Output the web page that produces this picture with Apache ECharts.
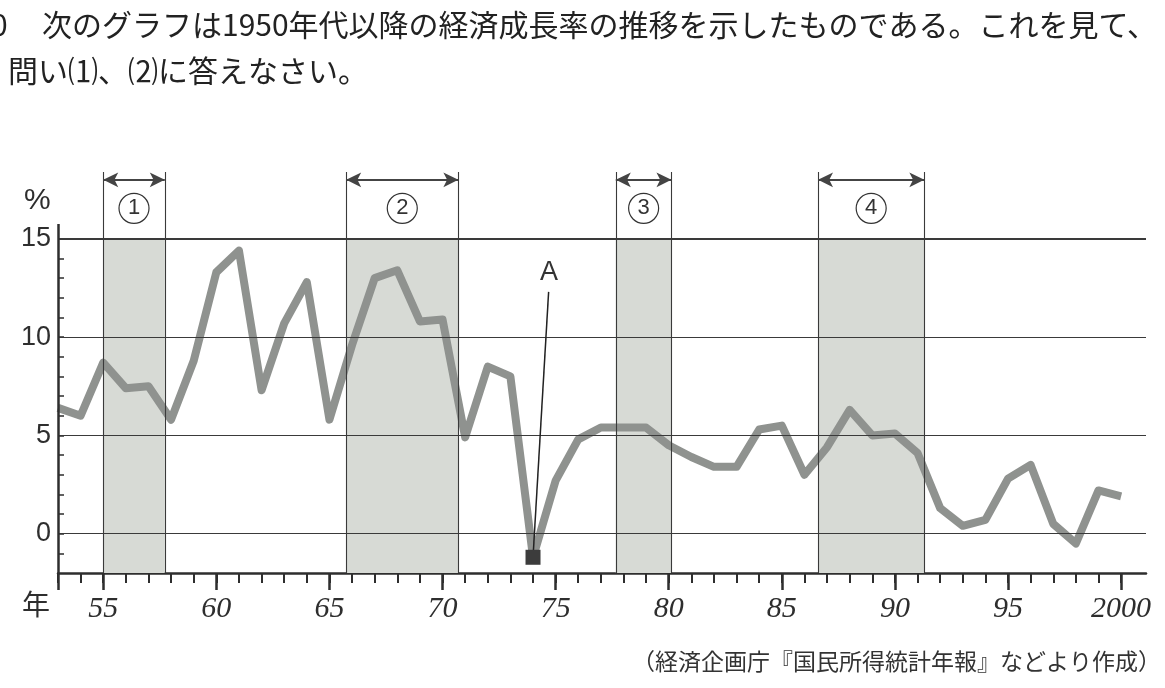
<!DOCTYPE html>
<html>
<head>
<meta charset="utf-8">
<script src="https://cdn.jsdelivr.net/npm/echarts@6/dist/echarts.min.js"></script>
<style>
  html, body { margin: 0; padding: 0; background: #fff; }
  #chart { width: 1165px; height: 688px; }
</style>
</head>
<body>
<div id="chart"></div>
<script>
// 年（1953〜2000）
var years = [1953, 1954, 1955, 1956, 1957, 1958, 1959, 1960, 1961, 1962, 1963, 1964,
  1965, 1966, 1967, 1968, 1969, 1970, 1971, 1972, 1973, 1974, 1975, 1976,
  1977, 1978, 1979, 1980, 1981, 1982, 1983, 1984, 1985, 1986, 1987, 1988,
  1989, 1990, 1991, 1992, 1993, 1994, 1995, 1996, 1997, 1998, 1999, 2000]
// 経済成長率（%）
var growth = [6.4, 6.0, 8.7, 7.4, 7.5, 5.8, 8.8, 13.3, 14.4, 7.3, 10.7, 12.8,
  5.8, 9.6, 13.0, 13.4, 10.8, 10.9, 4.9, 8.5, 8.0, -1.2, 2.7, 4.8,
  5.4, 5.4, 5.4, 4.5, 3.9, 3.4, 3.4, 5.3, 5.5, 3.0, 4.4, 6.3,
  5.0, 5.1, 4.1, 1.3, 0.4, 0.7, 2.8, 3.5, 0.5, -0.5, 2.2, 1.9]
// 景気拡大期（①〜④）
var bandNames = ['1', '2', '3', '4']
var bandStart = [1955.0, 1965.74, 1977.66, 1986.6]
var bandEnd = [1957.72, 1970.7, 1980.12, 1991.3]
// 目盛
var yTickLabels = [0, 5, 10, 15]
var yMinorTicks = [-1, 0, 1, 2, 3, 4, 5, 6, 7, 8, 9, 10, 11, 12, 13, 14, 15]
var xTickLabels = [1955, 1960, 1965, 1970, 1975, 1980, 1985, 1990, 1995, 2000]
var xMajorTicks = [1953, 1955, 1960, 1965, 1970, 1975, 1980, 1985, 1990, 1995, 2000]
// A の点
var pointA = 1974

var ink = '#2e2e2e'
var chart = echarts.init(document.getElementById('chart'))

var lineData = years.map(function (y, i) { return [y, growth[i]] })
var idxA = years.indexOf(pointA)

var areaData = bandStart.map(function (s, i) {
  return [{ xAxis: s, yAxis: -2 }, { xAxis: bandEnd[i], yAxis: 15 }]
})
var edgeData = []
bandStart.forEach(function (s, i) {
  edgeData.push({ xAxis: s })
  edgeData.push({ xAxis: bandEnd[i] })
})
var gridData = yTickLabels.map(function (v) {
  return { yAxis: v, lineStyle: { width: v === 15 ? 2 : 1.2 } }
})
var arrowData = bandStart.map(function (s, i) {
  return [{ coord: [s, 18] }, { coord: [bandEnd[i], 18] }]
})
var circleData = bandStart.map(function (s, i) {
  return { coord: [(s + bandEnd[i]) / 2, 16.55], value: bandNames[i] }
})

var option = {
  backgroundColor: '#fff',
  animation: false,
  grid: { left: 58, top: 172, width: 1088, height: 401 },
  xAxis: [{
    type: 'value', min: 1953, max: 2001.1,
    axisLine: { show: true, onZero: false, lineStyle: { color: ink, width: 2.5 } },
    axisTick: { show: true, customValues: years, length: 10, lineStyle: { color: ink, width: 2 } },
    axisLabel: {
      customValues: xTickLabels, margin: 21,
      fontFamily: 'Liberation Serif', fontStyle: 'italic', fontSize: 30, color: ink,
      formatter: function (v) { return v === 2000 ? '2000' : String(v % 100) }
    },
    splitLine: { show: false }
  }, {
    type: 'value', min: 1953, max: 2001.1, position: 'bottom', gridIndex: 0,
    axisLine: { show: false, onZero: false },
    axisTick: { show: true, customValues: xMajorTicks, length: 17, lineStyle: { color: ink, width: 2.5 } },
    axisLabel: { show: false },
    splitLine: { show: false }
  }],
  yAxis: {
    type: 'value', min: -2, max: 18.4,
    axisLine: { show: false, onZero: false },
    axisTick: { show: true, inside: true, customValues: yMinorTicks, length: 6, lineStyle: { color: ink, width: 1.5 } },
    axisLabel: {
      customValues: yTickLabels, margin: 7,
      fontFamily: 'Liberation Sans', fontSize: 27, color: ink
    },
    splitLine: { show: false }
  },
  graphic: [
    { type: 'text', left: -9, top: 10, style: { text: '0', font: '30px "Noto Sans CJK JP"', fill: '#222' } },
    { type: 'text', left: 42, top: 10, style: { text: '次のグラフは1950年代以降の経済成長率の推移を示したものである。これを見て、', font: '30px "Noto Sans CJK JP"', fill: '#222' } },
    { type: 'text', left: 8, top: 56, style: { text: '問い⑴、⑵に答えなさい。', font: '30px "Noto Sans CJK JP"', fill: '#222' } },
    { type: 'text', left: 24, top: 186, style: { text: '%', font: '30px "Liberation Sans"', fill: ink } },
    { type: 'text', left: 22, top: 590, style: { text: '年', font: '28px "Noto Sans CJK JP"', fill: ink } },
    { type: 'text', right: 4, top: 650, style: { text: '（経済企画庁『国民所得統計年報』などより作成）', font: '23px "Noto Sans CJK JP"', fill: '#333' } }
  ],
  series: [
    {
      // 網かけ
      type: 'line', data: [], z: 1, silent: true,
      markArea: { silent: true, itemStyle: { color: '#d7dad5' }, data: areaData }
    },
    {
      // 目盛線・期間の区切り・矢印・番号
      type: 'line', data: [], z: 2, silent: true,
      markLine: {
        silent: true, symbol: 'none', label: { show: false },
        lineStyle: { color: '#3a3a3a', type: 'solid', width: 1.1 },
        data: gridData.concat(edgeData).concat([
          [{ coord: [1953, -2], lineStyle: { width: 2.5, color: ink } }, { coord: [1953, 15.75] }]
        ]).concat(arrowData.map(function (d) {
          return [Object.assign({ symbol: 'arrow', symbolSize: [11, 15], lineStyle: { width: 1.8, color: '#444' } }, d[0]),
            Object.assign({ symbol: 'arrow', symbolSize: [11, 15] }, d[1])]
        }))
      },
      markPoint: {
        silent: true, symbol: 'circle', symbolSize: 30,
        itemStyle: { color: '#fff', borderColor: '#333', borderWidth: 1.2 },
        label: { show: true, formatter: '{c}', fontFamily: 'Liberation Sans', fontSize: 22, color: '#333' },
        data: circleData
      }
    },
    {
      name: '経済成長率', type: 'line', data: lineData, z: 3,
      showSymbol: false, symbol: 'none', silent: true,
      lineStyle: { color: '#8f928f', width: 8, join: 'round' }
    },
    {
      // A
      type: 'line', data: [], z: 4, silent: true,
      markLine: {
        silent: true, symbol: 'none',
        lineStyle: { color: '#222', type: 'solid', width: 1.5 },
        label: { show: true, position: 'end', formatter: 'A', distance: 6, fontFamily: 'Liberation Sans', fontSize: 27, color: '#333' },
        data: [[{ coord: [pointA, growth[idxA]] }, { coord: [1974.69, 12.3] }]]
      },
      markPoint: {
        silent: true, symbol: 'rect', symbolSize: 15,
        itemStyle: { color: '#3c3c3c' }, label: { show: false },
        data: [{ coord: [pointA, growth[idxA]] }]
      }
    }
  ]
}

chart.setOption(option)
</script>
</body>
</html>
